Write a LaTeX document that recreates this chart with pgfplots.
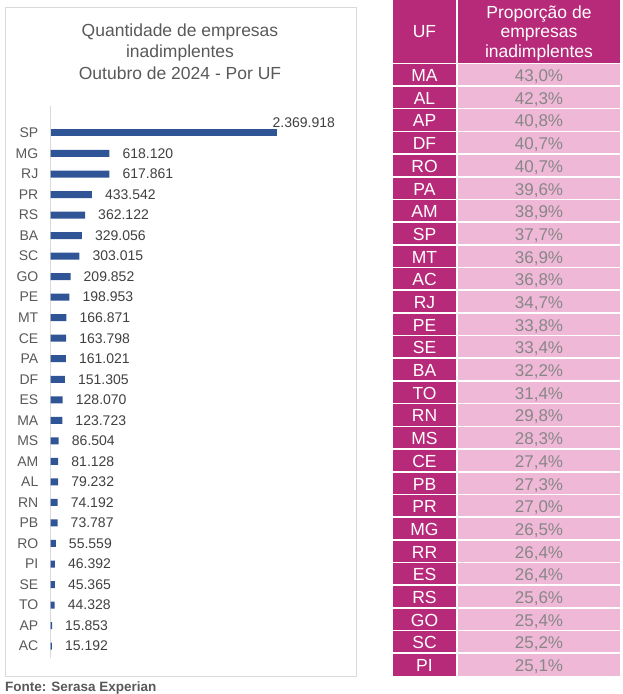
\documentclass[border=0pt]{standalone}
\usepackage{pgfplots}
\pgfplotsset{compat=1.18}
\usepackage{pgfplotstable}
\usepackage{fontspec}
\setmainfont{Liberation Sans}
\definecolor{barblue}{RGB}{47,85,151}
\definecolor{mag}{RGB}{183,42,122}
\definecolor{pinkc}{RGB}{239,184,215}
\definecolor{txtgray}{RGB}{89,89,89}
\definecolor{valgray}{RGB}{64,64,64}
\definecolor{tabgray}{RGB}{135,135,135}
\definecolor{linegray}{RGB}{217,217,217}

\pgfplotstableread{
idx val lab
1 618120 618.120
2 617861 617.861
3 433542 433.542
4 362122 362.122
5 329056 329.056
6 303015 303.015
7 209852 209.852
8 198953 198.953
9 166871 166.871
10 163798 163.798
11 161021 161.021
12 151305 151.305
13 128070 128.070
14 123723 123.723
15 86504 86.504
16 81128 81.128
17 79232 79.232
18 74192 74.192
19 73787 73.787
20 55559 55.559
21 46392 46.392
22 45365 45.365
23 44328 44.328
24 15853 15.853
25 15192 15.192
}\qtd

\begin{document}
\begin{tikzpicture}[x=1pt,y=1pt]
\useasboundingbox (0,0) rectangle (622,-694);
% left panel frame
\draw[linegray, line width=1pt] (5.5,-7.5) rectangle (356,-676.5);
% title
\node[anchor=base, font=\fontsize{17.5}{21}\selectfont, text=txtgray] at (180,-36) {Quantidade de empresas};
\node[anchor=base, font=\fontsize{17.5}{21}\selectfont, text=txtgray] at (180,-57.5) {inadimplentes};
\node[anchor=base, font=\fontsize{17.5}{21}\selectfont, text=txtgray] at (180,-79) {Outubro de 2024 - Por UF};
% axis line
\draw[linegray, line width=1pt] (50.5,-106) -- (50.5,-658);
\begin{axis}[
  at={(50.5pt,-658pt)}, anchor=south west,
  scale only axis, width=226pt, height=554pt,
  xmin=0, xmax=2369918, ymin=-1.41, ymax=25.58,
  y dir=reverse,
  xbar, bar width=7pt, bar shift=0pt,
  clip=false,
  axis line style={draw=none},
  xtick=\empty,
  ytick={0,...,25},
  yticklabels={SP,MG,RJ,PR,RS,BA,SC,GO,PE,MT,CE,PA,DF,ES,MA,MS,AM,AL,RN,PB,RO,PI,SE,TO,AP,AC},
  major tick length=0pt,
  yticklabel style={anchor=east, inner sep=0pt, xshift=-12pt, font=\fontsize{14}{16}\selectfont, text=txtgray},
  nodes near coords,
  point meta=explicit symbolic,
  every node near coord/.append style={anchor=west, inner sep=0pt, xshift=13pt, font=\fontsize{14}{16}\selectfont, text=valgray},
]
\addplot[fill=barblue, draw=none, every node near coord/.append style={xshift=-17pt, yshift=10pt}] coordinates {(2369918,0) [2.369.918]};
\addplot[fill=barblue, draw=none] table[x=val, y=idx, meta=lab] {\qtd};
\end{axis}
% source
\node[anchor=base west, font=\bfseries\fontsize{13.5}{16}\selectfont, text=txtgray, inner sep=0pt] at (5,-691.5) {Fonte: Serasa Experian};
% table
\fill[mag] (393,0) rectangle (620,-63.3);
\fill[mag] (393,-63.3) rectangle (457,-676);
\fill[pinkc] (457,-63.3) rectangle (620,-676);
\draw[white, line width=1.8pt] (457,0) -- (457,-676);
\node[anchor=base, font=\fontsize{17.5}{21}\selectfont, text=white] at (424.5,-37.7) {UF};
\node[anchor=base, font=\fontsize{17.5}{21}\selectfont, text=white] at (539,-18) {Proporção de};
\node[anchor=base, font=\fontsize{17.5}{21}\selectfont, text=white] at (539,-37.5) {empresas};
\node[anchor=base, font=\fontsize{17.5}{21}\selectfont, text=white] at (539,-57) {inadimplentes};
\foreach \uf/\v [count=\i from 0] in {MA/43.0, AL/42.3, AP/40.8, DF/40.7, RO/40.7, PA/39.6, AM/38.9, SP/37.7, MT/36.9, AC/36.8, RJ/34.7, PE/33.8, SE/33.4, BA/32.2, TO/31.4, RN/29.8, MS/28.3, CE/27.4, PB/27.3, PR/27.0, MG/26.5, RR/26.4, ES/26.4, RS/25.6, GO/25.4, SC/25.2, PI/25.1} {
  \pgfmathsetmacro\yt{63.3+22.69*\i}
  \pgfmathsetmacro\yb{\yt+18.3}
  \draw[white, line width=1.6pt] (393,-\yt) -- (620,-\yt);
  \node[anchor=base, font=\fontsize{17.5}{20}\selectfont, text=white] at (424.5,-\yb) {\uf};
  \node[anchor=base, font=\fontsize{17}{20}\selectfont, text=tabgray] at (539,-\yb) {\pgfmathprintnumber[fixed,fixed zerofill,precision=1,use comma,assume math mode=true]{\v}\%};
}
\end{tikzpicture}
\end{document}
